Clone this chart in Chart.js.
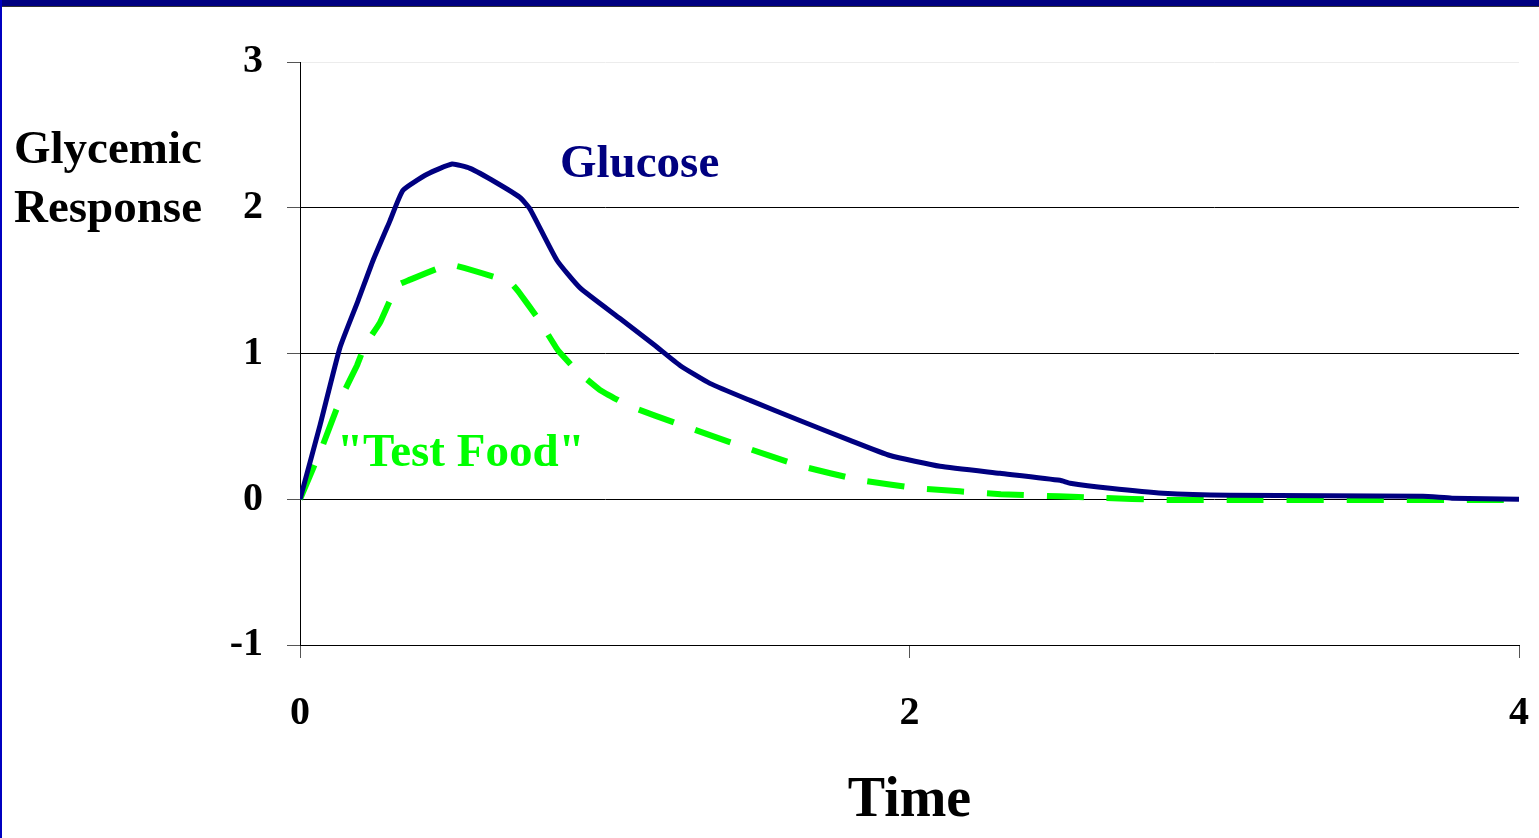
<!DOCTYPE html>
<html>
<head>
<meta charset="utf-8">
<title>Glycemic Response</title>
<script src="https://cdn.jsdelivr.net/npm/chart.js@4.4.1/dist/chart.umd.min.js"></script>
<style>
  html, body { margin: 0; padding: 0; background: #fff; overflow: hidden; }
  #wrap { position: relative; width: 1539px; height: 838px; }
  #topBar { position: absolute; left: 0; top: 0; width: 1539px; height: 6px; background: #000080; border-bottom: 1px solid #333; }
  #leftBar { position: absolute; left: 0; top: 0; width: 2px; height: 838px; background: #0000c0; }
</style>
</head>
<body>
<div id="wrap">
  <canvas id="chart" width="1539" height="838"></canvas>
  <div id="topBar"></div>
  <div id="leftBar"></div>
</div>
<script>
// Data
const glucoseTime = [0, 0.066, 0.131, 0.19, 0.24, 0.295, 0.338, 0.417, 0.499, 0.558, 0.646, 0.722, 0.755, 0.843, 0.919,
  1.05, 1.165, 1.247, 1.345, 1.477, 1.64, 1.805, 1.936, 2.1, 2.297, 2.494, 2.527, 2.658, 2.832, 3.05, 3.685, 3.78, 4]
const glucoseResponse = [0, 0.51, 1.04, 1.36, 1.64, 1.91, 2.12, 2.23, 2.30, 2.27, 2.17, 2.07, 1.99, 1.64, 1.45,
  1.24, 1.055, 0.918, 0.795, 0.678, 0.54, 0.404, 0.30, 0.226, 0.178, 0.13, 0.11, 0.075, 0.041, 0.027, 0.02, 0.007, 0]

const testFoodTime = [0, 0.072, 0.131, 0.187, 0.213, 0.262, 0.318, 0.354, 0.492, 0.689, 0.715, 0.781, 0.847, 0.909,
  0.984, 1.08, 1.25, 1.44, 1.64, 1.84, 2.03, 2.3, 2.49, 2.62, 2.84, 2.92, 4]
const testFoodResponse = [0, 0.356, 0.678, 0.918, 1.055, 1.21, 1.466, 1.5, 1.61, 1.49, 1.43, 1.24, 1.02, 0.88,
  0.75, 0.64, 0.51, 0.37, 0.23, 0.13, 0.075, 0.035, 0.02, 0.01, -0.005, -0.005, -0.005]

const yTicks = [-1, 0, 1, 2, 3]
const xTicks = [0, 2, 4]

const serif = '"Liberation Serif", "Times New Roman", serif'

function toPoints(xs, ys) {
  return xs.map((x, i) => ({ x: x, y: ys[i] }))
}

// Free text labels placed relative to the plot
const labelPlugin = {
  id: 'labels',
  afterDraw(chart) {
    const ctx = chart.ctx
    const xs = chart.scales.x
    ctx.save()
    ctx.textBaseline = 'alphabetic'
    ctx.textAlign = 'left'
    ctx.fillStyle = '#000'
    ctx.font = 'bold 47px ' + serif
    ctx.fillText('Glycemic', 14, 163)
    ctx.fillText('Response', 14, 222)

    ctx.fillStyle = '#000080'
    ctx.fillText('Glucose', 560, 177)

    ctx.fillStyle = '#00ff00'
    ctx.fillText('"Test Food"', 337, 466)

    ctx.fillStyle = '#000'
    ctx.textAlign = 'center'
    ctx.font = 'bold 56px ' + serif
    ctx.fillText('Time', xs.getPixelForValue(2), 816)
    ctx.restore()
  }
}

const ctx = document.getElementById('chart')
new Chart(ctx, {
  type: 'line',
  data: {
    datasets: [
      {
        label: 'Glucose',
        data: toPoints(glucoseTime, glucoseResponse),
        borderColor: '#000080',
        borderWidth: 5,
        pointRadius: 0,
        tension: 0.15,
        fill: false
      },
      {
        label: 'Test Food',
        data: toPoints(testFoodTime, testFoodResponse),
        borderColor: '#00ff00',
        borderWidth: 6,
        borderDash: [37, 23],
        borderCapStyle: 'butt',
        pointRadius: 0,
        tension: 0.1,
        fill: false
      }
    ]
  },
  options: {
    responsive: false,
    animation: false,
    devicePixelRatio: 1,
    layout: { padding: { top: 62, right: 0, left: 0, bottom: 0 } },
    plugins: {
      legend: { display: false },
      tooltip: { enabled: false }
    },
    scales: {
      x: {
        type: 'linear',
        min: 0,
        max: 4,
        afterFit(scale) {
          scale.height = 193
          scale.paddingRight = 20
        },
        afterBuildTicks(scale) { scale.ticks = xTicks.map((v) => ({ value: v })) },
        border: { display: true, color: '#000', width: 1 },
        grid: {
          drawOnChartArea: false,
          drawTicks: true,
          tickLength: 13,
          tickColor: '#555'
        },
        ticks: {
          color: '#000',
          padding: 32,
          maxRotation: 0,
          font: { family: serif, size: 40, weight: 'bold' }
        }
      },
      y: {
        min: -1,
        max: 3,
        afterFit(scale) { scale.width = 300 },
        afterBuildTicks(scale) { scale.ticks = yTicks.map((v) => ({ value: v })) },
        border: { display: true, color: '#000', width: 1 },
        grid: {
          color: (c) => (c.tick && c.tick.value === 3 ? '#ececec' : '#000'),
          lineWidth: 1,
          tickLength: 13,
          tickColor: '#555'
        },
        ticks: {
          color: '#000',
          padding: 24,
          font: { family: serif, size: 40, weight: 'bold' }
        }
      }
    }
  },
  plugins: [labelPlugin]
})
</script>
</body>
</html>
